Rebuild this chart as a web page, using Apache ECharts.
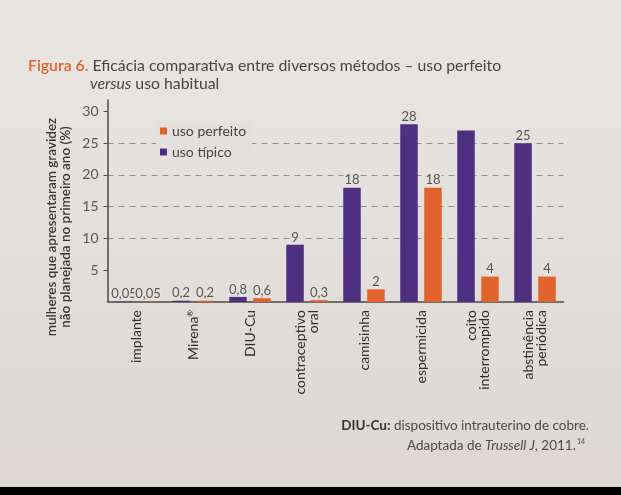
<!DOCTYPE html>
<html><head><meta charset="utf-8">
<script src="https://cdn.jsdelivr.net/npm/echarts@6/dist/echarts.min.js"></script>
<style>html,body{margin:0;padding:0;background:#e4e0dd;}#c{width:621px;height:495px;}</style>
</head><body><div id="c"></div>
<script>
const categories = ['implante','Mirena®','DIU-Cu','contraceptivo\noral','camisinha','espermicida','coito\ninterrompido','abstinência\nperiódica'];
const usoTipico = [0.05, 0.2, 0.8, 9, 18, 28, 27, 25];
const usoPerfeito = [0.05, 0.2, 0.6, 0.3, 2, 18, 4, 4];
const tipicoLabels = ['0,05','0,2','0,8','9','18','28','','25'];
const perfeitoLabels = ['0,05','0,2','0,6','0,3','2','18','4','4'];
const yTicks = [5, 10, 15, 20, 25, 30];

const PAPER = '#e4e0dd';
const PURPLE = '#4f2f7f';
const ORANGE = '#e2622b';
const FONT = 'Lato, "Open Sans", sans-serif';

const chart = echarts.init(document.getElementById('c'), null, {renderer: 'canvas'});
const labelStyle = {
  show: true, position: 'top', distance: 1, fontFamily: FONT, fontSize: 13, color: '#555',
  backgroundColor: PAPER, padding: [0, 1, 0, 1]
};
chart.setOption({
  backgroundColor: new echarts.graphic.LinearGradient(0, 0, 0, 1, [
    {offset: 0, color: '#e9e6e3'}, {offset: 1, color: '#dcd7d3'}
  ]),
  animation: false,
  title: [
    {
      text: '{o|Figura 6.} Eficácia comparativa entre diversos métodos – uso perfeito',
      left: 23, top: 52.5,
      textStyle: {fontFamily: FONT, fontSize: 15.8, fontWeight: 'normal', color: '#454545',
        rich: {o: {fontFamily: FONT, fontSize: 15.8, fontWeight: 600, color: ORANGE}}}
    },
    {
      text: '{i|versus} uso habitual',
      left: 85, top: 70.5,
      textStyle: {fontFamily: FONT, fontSize: 15.8, fontWeight: 'normal', color: '#454545',
        rich: {i: {fontFamily: FONT, fontSize: 15.8, fontStyle: 'italic', color: '#454545'}}}
    },
    {
      text: '{b|DIU-Cu:} dispositivo intrauterino de cobre.',
      right: 27, top: 414,
      textStyle: {fontFamily: FONT, fontSize: 13.5, fontWeight: 'normal', color: '#4a4a4a',
        rich: {b: {fontFamily: FONT, fontSize: 13.5, fontWeight: 'bold', color: '#333'}}}
    },
    {
      text: 'Adaptada de {i|Trussell J}, 2011.{s|14}',
      right: 31, top: 433,
      textStyle: {fontFamily: FONT, fontSize: 13.5, fontWeight: 'normal', color: '#4a4a4a',
        rich: {i: {fontFamily: FONT, fontSize: 13.5, fontStyle: 'italic', color: '#4a4a4a'},
               s: {fontFamily: FONT, fontSize: 7, color: '#4a4a4a', verticalAlign: 'top', padding: [0, 0, 8, 1]}}}
    }
  ],
  legend: {
    data: ['uso perfeito', 'uso típico'],
    orient: 'vertical', left: 156, top: 122,
    icon: 'rect', itemWidth: 7, itemHeight: 7, itemGap: 7,
    backgroundColor: PAPER, padding: [2, 6, 2, 4],
    textStyle: {fontFamily: FONT, fontSize: 14, color: '#444'}
  },
  grid: {left: 107.5, right: 57.5, top: 100, bottom: 193},
  xAxis: {
    type: 'category', data: categories,
    axisLine: {lineStyle: {color: '#4a4a4a', width: 1.5}},
    axisTick: {show: false},
    axisLabel: {
      rotate: 90, margin: 8, fontFamily: FONT, fontSize: 14, color: '#2e2e2e', lineHeight: 13, interval: 0,
      formatter: v => v.replace('®', '{s|®}'),
      rich: {s: {fontFamily: FONT, fontSize: 8, color: '#2e2e2e', verticalAlign: 'top', padding: [0, 0, 8, 0]}}
    }
  },
  yAxis: {
    type: 'value', min: 0, max: 31.8, interval: 5,
    axisLine: {show: true, lineStyle: {color: '#4a4a4a', width: 1.5}},
    axisTick: {show: true, length: 4, customValues: yTicks, lineStyle: {color: '#4a4a4a'}},
    axisLabel: {customValues: yTicks, margin: 9, fontFamily: FONT, fontSize: 14, color: '#555'},
    splitLine: {show: true, showMinLine: false, showMaxLine: false, lineStyle: {color: '#949090', type: [6, 5], width: 1}}
  },
  series: [
    {
      name: 'uso típico', type: 'bar', data: usoTipico, barWidth: 17.5, barGap: '37%',
      itemStyle: {color: PURPLE},
      label: Object.assign({}, labelStyle, {formatter: p => tipicoLabels[p.dataIndex]})
    },
    {
      name: 'uso perfeito', type: 'bar', data: usoPerfeito, barWidth: 17.5, barGap: '37%',
      itemStyle: {color: ORANGE},
      label: Object.assign({}, labelStyle, {formatter: p => perfeitoLabels[p.dataIndex]})
    }
  ],
  graphic: [
    {
      type: 'text', x: 58.5, y: 227, rotation: Math.PI / 2, silent: true,
      style: {
        text: 'mulheres que apresentaram gravidez\nnão planejada no primeiro ano (%)',
        align: 'center', verticalAlign: 'middle',
        fontFamily: FONT, fontSize: 13.5, fontWeight: 600, lineHeight: 14, fill: '#383838'
      }
    },
    {type: 'rect', left: 0, top: 487, shape: {width: 621, height: 8}, style: {fill: '#000'}, silent: true}
  ]
});
</script></body></html>
